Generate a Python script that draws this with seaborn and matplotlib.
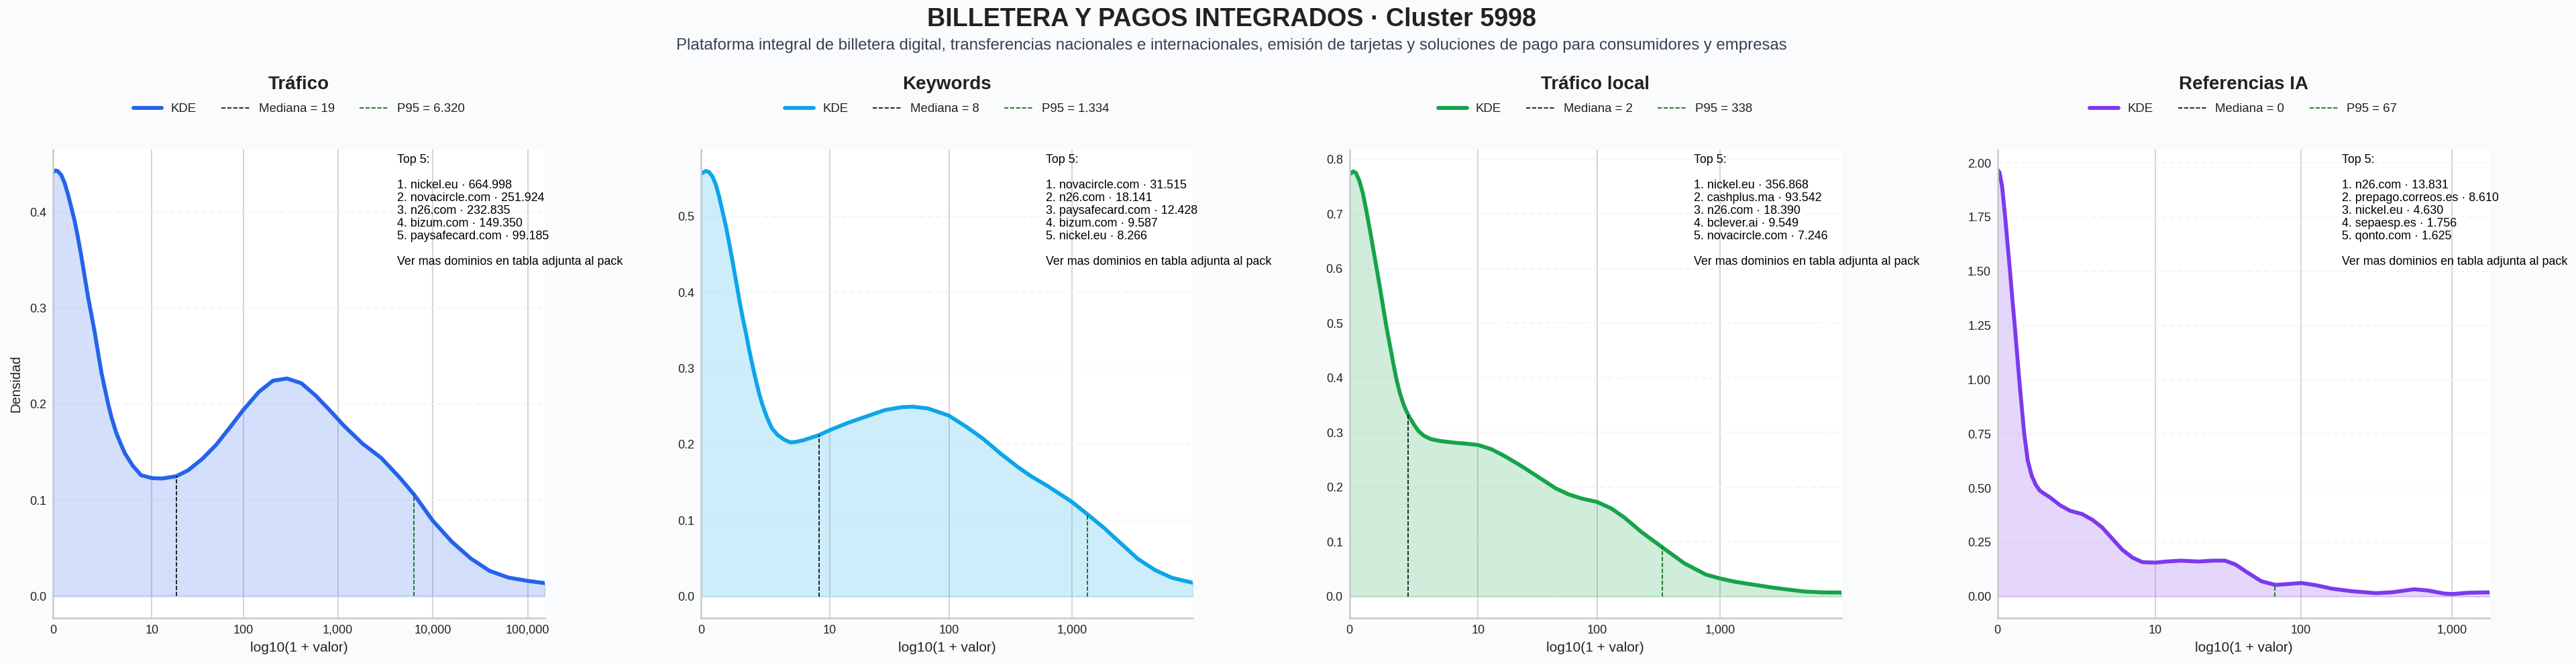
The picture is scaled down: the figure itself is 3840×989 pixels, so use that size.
import numpy as np
import matplotlib
matplotlib.use("Agg")
import matplotlib.pyplot as plt
import seaborn as sns

# density curves (x is log10(1 + valor))
trafico_x = [0, .028, .051, .087, .122, .157, .193, .228, .263, .299, .334, .369, .405, .44, .475, .511, .546,
             .582, .617, .664, .711, .758, .84, .928, 1.042, 1.151, 1.30, 1.424, 1.572, 1.721, 1.87, 2.004,
             2.168, 2.316, 2.465, 2.614, 2.763, 2.912, 3.06, 3.259, 3.457, 3.656, 3.805, 3.998, 4.201, 4.4,
             4.598, 4.797, 5.0, 5.18]
trafico_y = [.442, .4436, .4429, .4389, .4308, .4191, .4051, .3911, .3736, .3539, .3329, .3119, .2932, .2746,
             .2536, .2326, .2163, .20, .186, .1708, .1592, .1487, .1359, .126, .123, .1226, .125, .1312, .143,
             .158, .1767, .194, .2128, .2245, .2268, .222, .2093, .194, .178, .159, .144, .123, .1056, .0788,
             .0566, .0392, .0263, .0193, .0159, .0135]

keywords_x = [0, .036, .063, .091, .118, .145, .172, .199, .227, .254, .281, .308, .335, .362, .39, .417, .444,
              .471, .498, .534, .571, .616, .67, .724, .77, .828, .95, 1.04, 1.175, 1.314, 1.487, 1.626, 1.712,
              1.834, 2.003, 2.146, 2.284, 2.423, 2.562, 2.666, 2.804, 2.998, 3.123, 3.255, 3.393, 3.532, 3.671,
              3.809, 3.983]
keywords_y = [.556, .5598, .5583, .5525, .5422, .526, .5069, .4877, .4643, .4407, .4157, .3906, .3672, .3465,
              .323, .3024, .2833, .2657, .2509, .2348, .2215, .2127, .2063, .2025, .2034, .2055, .212, .2187,
              .2276, .2355, .2452, .249, .2496, .2473, .2379, .2231, .207, .1878, .1702, .1584, .1451, .1245,
              .1083, .0907, .0701, .0495, .0347, .0244, .0177]

local_x = [0, .031, .054, .081, .109, .136, .163, .19, .217, .245, .272, .299, .326, .353, .38, .408, .435, .462,
           .489, .525, .56, .6, .661, .734, .838, .942, 1.042, 1.15, 1.254, 1.392, 1.531, 1.67, 1.774, 1.878, 2.002,
           2.12, 2.224, 2.363, 2.536, 2.71, 2.883, 3.001, 3.125, 3.264, 3.403, 3.541, 3.68, 3.819, 3.982]
local_y = [.772, .7779, .7747, .7604, .7379, .7072, .6744, .6397, .6048, .568, .5311, .4943, .4616, .4288, .3982,
           .3725, .3535, .3385, .327, .3135, .3025, .2945, .2877, .2845, .2816, .2796, .2771, .2693, .2571, .2386,
           .2182, .1977, .1867, .1793, .1731, .1609, .1445, .1179, .0892, .0606, .0401, .0327, .0266, .0217,
           .0168, .0127, .009, .0074, .007]

ia_x = [0, .013, .03, .05, .066, .082, .097, .113, .128, .143, .16, .176, .199, .226, .253, .279, .306, .346,
        .412, .479, .558, .625, .691, .758, .824, .891, .957, 1.042, 1.117, 1.21, 1.329, 1.423, 1.502, 1.569,
        1.649, 1.742, 1.835, 1.914, 2.007, 2.1, 2.207, 2.34, 2.499, 2.606, 2.752, 2.845, 2.951, 3.005, 3.111,
        3.249]
ia_y = [1.969, 1.955, 1.89, 1.75, 1.625, 1.5, 1.375, 1.25, 1.125, 1.0, .87, .75, .627, .555, .514, .488,
        .475, .457, .421, .395, .38, .354, .318, .266, .215, .179, .158, .156, .161, .165, .161, .165, .165,
        .148, .111, .07, .053, .057, .062, .052, .036, .024, .015, .019, .033, .027, .013, .011, .017, .019]

titles = ["Tráfico", "Keywords", "Tráfico local", "Referencias IA"]
colors = ["#2563eb", "#0ea5e9", "#16a34a", "#7c3aed"]
medians = [19, 8, 2, 0]
p95s = [6320, 1334, 338, 67]
p95_labels = ["6.320", "1.334", "338", "67"]
xticks = [[0, 10, 100, 1000, 10000, 100000], [0, 10, 100, 1000], [0, 10, 100, 1000], [0, 10, 100, 1000]]
xmax = [5.18, 3.98, 3.98, 3.249]
ylims = [(-0.0229, 0.4655), (-0.0286, 0.588), (-0.0397, 0.818), (-0.1, 2.062)]
yticks = [[0, .1, .2, .3, .4], [0, .1, .2, .3, .4, .5], [0, .1, .2, .3, .4, .5, .6, .7, .8],
          [0, .25, .5, .75, 1, 1.25, 1.5, 1.75, 2]]
yfmt = ["{:.1f}", "{:.1f}", "{:.1f}", "{:.2f}"]
top5 = [
    ["nickel.eu · 664.998", "novacircle.com · 251.924", "n26.com · 232.835", "bizum.com · 149.350",
     "paysafecard.com · 99.185"],
    ["novacircle.com · 31.515", "n26.com · 18.141", "paysafecard.com · 12.428", "bizum.com · 9.587",
     "nickel.eu · 8.266"],
    ["nickel.eu · 356.868", "cashplus.ma · 93.542", "n26.com · 18.390", "bclever.ai · 9.549",
     "novacircle.com · 7.246"],
    ["n26.com · 13.831", "prepago.correos.es · 8.610", "nickel.eu · 4.630", "sepaesp.es · 1.756",
     "qonto.com · 1.625"],
]

curves_x = [trafico_x, keywords_x, local_x, ia_x]
curves_y = [trafico_y, keywords_y, local_y, ia_y]

BG = "#fafbfd"
sns.set_theme(style="whitegrid")
plt.rcParams["font.family"] = ["Liberation Sans", "DejaVu Sans"]

fig, axes = plt.subplots(1, 4, figsize=(38.4, 9.89), dpi=100, facecolor=BG)
fig.subplots_adjust(left=79 / 3840, right=3711 / 3840, top=1 - 223 / 989, bottom=1 - 922 / 989, wspace=233 / 733)

for i, ax in enumerate(axes):
    x = np.array(curves_x[i])
    y = np.array(curves_y[i])
    color = colors[i]

    ax.fill_between(x, 0, y, color=color, alpha=0.2, lw=1.5)
    sns.lineplot(x=x, y=y, ax=ax, color=color, lw=4.2, errorbar=None, sort=False, label="KDE")

    med = np.log10(1 + medians[i])
    p95 = np.log10(1 + p95s[i])
    ax.vlines(med, 0, np.interp(med, x, y), color="black", lw=1.2, ls="--", label=f"Mediana = {medians[i]}")
    ax.vlines(p95, 0, np.interp(p95, x, y), color="darkgreen", lw=1.2, ls="--", label=f"P95 = {p95_labels[i]}")

    ax.set_xlim(0, xmax[i])
    ax.set_ylim(*ylims[i])
    ticks = xticks[i]
    ax.set_xticks(np.log10(1 + np.array(ticks)))
    ax.set_xticklabels([f"{t:,}" for t in ticks])
    ax.set_yticks(yticks[i])
    ax.set_yticklabels([yfmt[i].format(t) for t in yticks[i]])
    ax.tick_params(labelsize=13, length=0, pad=7, colors="#222222")

    ax.set_facecolor("white")
    ax.grid(axis="x", color="#c9c9c9", lw=1.1)
    ax.grid(axis="y", color="#f2f2f2", lw=1.2, ls=(0, (4, 3)))
    sns.despine(ax=ax)
    for side in ["left", "bottom"]:
        ax.spines[side].set_color("#c9c9c9")
        ax.spines[side].set_linewidth(1.8)

    ax.set_xlabel("log10(1 + valor)", fontsize=15, color="#222222", labelpad=6)
    ax.set_ylabel("Densidad" if i == 0 else "", fontsize=14.6, color="#222222", labelpad=8)
    ax.set_title(titles[i], fontsize=20, fontweight="bold", color="#222222", pad=65)

    handles, labels = ax.get_legend_handles_labels()
    ax.legend(handles, labels, loc="center", bbox_to_anchor=(0.5, 1.086), ncol=3, frameon=False, fontsize=13.4,
              handlelength=2.3, handletextpad=0.7, columnspacing=2.0, labelcolor="#222222")

    note = "Top 5:\n\n" + "\n".join(f"{n}. {d}" for n, d in enumerate(top5[i], 1))
    note += "\n\nVer mas dominios en tabla adjunta al pack"
    ax.text(0.70, 0.99, note, transform=ax.transAxes, ha="left", va="top", fontsize=12.9, color="black",
            linespacing=1.15, clip_on=False)

fig.text(1836 / 3840, 1 - 29 / 989, "BILLETERA Y PAGOS INTEGRADOS · Cluster 5998", ha="center", va="center",
         fontsize=27.2, fontweight="bold", color="#222222")
fig.text(1836 / 3840, 1 - 68 / 989,
         "Plataforma integral de billetera digital, transferencias nacionales e internacionales, "
         "emisión de tarjetas y soluciones de pago para consumidores y empresas",
         ha="center", va="center", fontsize=17.3, color="#374151")

fig.savefig("out.png", dpi=100, facecolor=BG)
